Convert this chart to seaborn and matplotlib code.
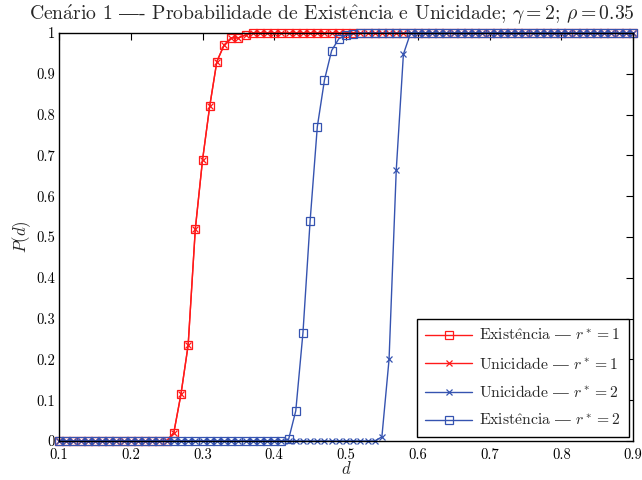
import numpy as np
import pandas as pd
import matplotlib
matplotlib.use("Agg")
import matplotlib.pyplot as plt
import seaborn as sns

# Distance grid d = 0.10, 0.11, ..., 0.90
d = np.round(np.linspace(0.1, 0.9, 81), 2)

# Estimated probabilities for each scenario
exist_r1 = [0.0] * 16 + [0.02, 0.115, 0.235, 0.52, 0.688, 0.82, 0.93, 0.97,
                         0.988, 0.988, 0.995] + [1.0] * 54
uniq_r1 = [0.0] * 16 + [0.02, 0.115, 0.235, 0.52, 0.688, 0.82, 0.93, 0.97,
                        0.988, 0.988, 0.995] + [1.0] * 54
uniq_r2 = [0.0] * 45 + [0.01, 0.2, 0.663, 0.948] + [1.0] * 32
exist_r2 = [0.0] * 32 + [0.004, 0.074, 0.265, 0.54, 0.77, 0.885, 0.957,
                         0.986, 0.994, 0.998] + [1.0] * 39

DASH = "$\\mathrm{—}$"
labels = [
    "Exist$\\hat{\\rm e}$ncia " + DASH + " $r^* = 1$",
    "Unicidade " + DASH + " $r^* = 1$",
    "Unicidade " + DASH + " $r^* = 2$",
    "Exist$\\hat{\\rm e}$ncia " + DASH + " $r^* = 2$",
]
series = [exist_r1, uniq_r1, uniq_r2, exist_r2]
colors = ["#ff1a1a", "#ff1a1a", "#3553b0", "#3553b0"]
markers = ["s", "x", "x", "s"]

xticks = [0.1, 0.2, 0.3, 0.4, 0.5, 0.6, 0.7, 0.8, 0.9]
xtick_labels = ["0.1", "0.2", "0.3", "0.4", "0.5", "0.6", "0.7", "0.8", "0.9"]
yticks = [0, 0.1, 0.2, 0.3, 0.4, 0.5, 0.6, 0.7, 0.8, 0.9, 1]
ytick_labels = ["0", "0.1", "0.2", "0.3", "0.4", "0.5", "0.6", "0.7", "0.8", "0.9", "1"]

sns.set_style("white")
plt.rcParams["font.family"] = ["cmr10", "DejaVu Serif"]
plt.rcParams["mathtext.fontset"] = "cm"
plt.rcParams["axes.unicode_minus"] = False

fig = plt.figure(figsize=(6.42, 4.80), dpi=100)
ax = fig.add_axes([0.0919, 0.0813, 0.8941, 0.8500])

for y, lab, c, m in zip(series, labels, colors, markers):
    df = pd.DataFrame({"d": d, "P": y})
    sns.lineplot(data=df, x="d", y="P", ax=ax, color=c, lw=1.0,
                 marker=m, ms=5.5 if m == "s" else 5.0,
                 mfc="none" if m == "s" else c, mec=c, mew=0.9,
                 label=lab, clip_on=False)

ax.set_xlim(0.1, 0.9)
ax.set_ylim(0, 1)
ax.set_xticks(xticks)
ax.set_xticklabels(xtick_labels)
ax.set_yticks(yticks)
ax.set_yticklabels(ytick_labels)
ax.tick_params(direction="in", top=True, right=True, length=5, width=0.8,
               labelsize=10.5, pad=3, colors="black")
ax.tick_params(axis="x", pad=5)
for s in ax.spines.values():
    s.set_color("black")
    s.set_linewidth(1.0)

ax.set_xlabel("$d$", fontsize=12, labelpad=-1)
ax.set_ylabel("$P(d)$", fontsize=12, labelpad=2)
ax.set_title("Cen$\\acute{\\rm a}$rio 1 " + DASH + "- Probabilidade de Exist$\\hat{\\rm e}$ncia "
             "e Unicidade; $\\gamma = 2$; $\\rho = 0.35$", fontsize=14.2, pad=9,
             x=0.476)

leg = ax.legend(loc="lower right", fontsize=11.3, frameon=True, fancybox=False,
                edgecolor="black", framealpha=1, handlelength=3.0,
                handletextpad=0.4, labelspacing=0.8, borderaxespad=0.25,
                borderpad=0.55)
leg.get_frame().set_linewidth(1.0)

fig.savefig("out.png", dpi=100)
